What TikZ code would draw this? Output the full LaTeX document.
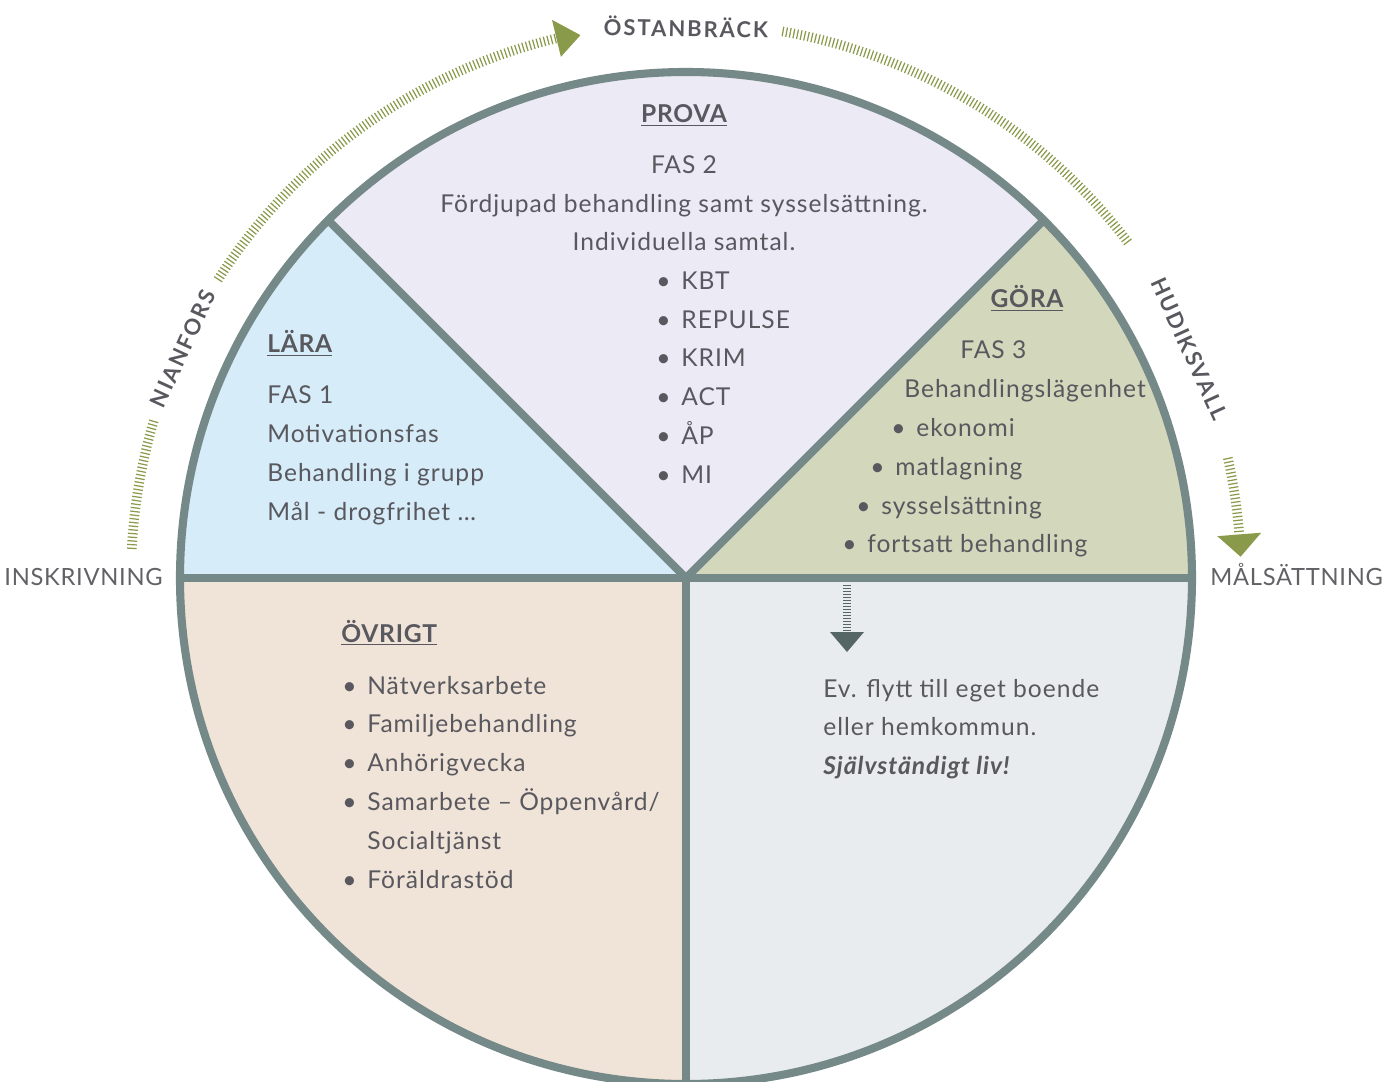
\documentclass[tikz,border=0pt]{standalone}
\usepackage{fontspec}
\setmainfont{Lato}
\usetikzlibrary{positioning}

\tikzset{
  body/.style={text=txt, font=\fontsize{14}{16}\selectfont\addfontfeature{LetterSpace=4}, inner sep=0pt},
  head/.style={text=txt, font=\fontsize{14}{16}\selectfont\bfseries\addfontfeature{LetterSpace=3}, inner sep=0pt},
  place/.style={text=txt, font=\fontsize{12.5}{14}\selectfont\bfseries\addfontfeature{LetterSpace=9}, inner sep=0pt},
  side/.style={text=side, font=\fontsize{13.5}{16}\selectfont\addfontfeature{LetterSpace=3}, inner sep=0pt},
  rimline/.style={draw=rim, line width=4.6pt},
  hatch/.style={draw=leaf, line width=5.5pt, dash pattern=on 0.7pt off 1.4pt},
  stem/.style={draw=arrowc, line width=4pt, dash pattern=on 0.8pt off 0.9pt}
}
\newcommand{\bl}{\makebox[0.5cm][l]{\textbullet}}
\newcommand{\hd}[1]{\underline{#1}}

\begin{document}
\begin{tikzpicture}[x=0.02cm, y=0.02cm]

% Define colors
\definecolor{rim}{RGB}{117, 137, 137}
\definecolor{txt}{RGB}{88, 88, 94}
\definecolor{side}{RGB}{98, 98, 102}
\definecolor{leaf}{RGB}{138, 154, 75}
\definecolor{arrowc}{RGB}{86, 102, 102}
\definecolor{laraC}{RGB}{214, 236, 248}
\definecolor{provaC}{RGB}{236, 234, 245}
\definecolor{goraC}{RGB}{211, 215, 187}
\definecolor{ovrC}{RGB}{240, 228, 217}
\definecolor{malC}{RGB}{232, 236, 239}

% Page size
\useasboundingbox (-686, -503) rectangle (712, 578);
\clip (-686, -503) rectangle (712, 578);

% Fill the sectors
\fill[laraC] (0, 0) -- (180:506) arc (180:135:506) -- cycle;
\fill[provaC] (0, 0) -- (135:506) arc (135:45:506) -- cycle;
\fill[goraC] (0, 0) -- (45:506) arc (45:0:506) -- cycle;
\fill[ovrC] (0, 0) -- (180:506) arc (180:270:506) -- cycle;
\fill[malC] (0, 0) -- (270:506) arc (270:360:506) -- cycle;

% Draw the rim and the dividers
\draw[rimline] (0, 0) circle (506);
\draw[rimline] (180:506) -- (0:506);
\draw[rimline] (0, 0) -- (135:506);
\draw[rimline] (0, 0) -- (45:506);
\draw[rimline] (0, 0) -- (270:506);

% Draw the green arcs
\draw[hatch] (177:555) arc (177:163.5:555);
\draw[hatch] (147.5:555) arc (147.5:103.5:555);
\fill[leaf] (103.5:574) -- (101:553) -- (103.5:536) -- cycle;
\draw[hatch] (80:555) arc (80:37:555);
\draw[hatch] (12.5:555) arc (12.5:4.5:555);
\fill[leaf] (4.5:577) -- (2.2:555) -- (4.5:533) -- cycle;

% Add the place names
\node[place, rotate=65.5] (nianfors) at (155.5:553) {NIANFORS};
\node[place, rotate=-1] (ostanbrack) at (90:551) {ÖSTANBRÄCK};
\node[place, rotate=-65.5] (hudiksvall) at (24.5:553) {HUDIKSVALL};

% Add start and end labels
\node[side, anchor=base east] (inskrivning) at (-523, -8) {INSKRIVNING};
\node[side, anchor=base west] (malsattning) at (524, -8) {MÅLSÄTTNING};

% Add labels for LÄRA
\node[head, anchor=base west] (lara) at (-419, 225) {\hd{LÄRA}};
\node[body, anchor=base west] (lara1) at (-419, 174) {FAS 1};
\node[body, anchor=base west] (lara2) at (-419, 135) {Motivationsfas};
\node[body, anchor=base west] (lara3) at (-419, 96) {Behandling i grupp};
\node[body, anchor=base west] (lara4) at (-419, 57) {Mål - drogfrihet \dots};

% Add labels for PROVA
\node[head, anchor=base] (prova) at (-2, 455) {\hd{PROVA}};
\node[body, anchor=base] (prova1) at (-2, 404) {FAS 2};
\node[body, anchor=base] (prova2) at (-2, 365) {Fördjupad behandling samt sysselsättning.};
\node[body, anchor=base] (prova3) at (-2, 327) {Individuella samtal.};
\node[body, anchor=base west] (prova4) at (-30, 288) {\bl KBT};
\node[body, anchor=base west] (prova5) at (-30, 249) {\bl REPULSE};
\node[body, anchor=base west] (prova6) at (-30, 211) {\bl KRIM};
\node[body, anchor=base west] (prova7) at (-30, 172) {\bl ACT};
\node[body, anchor=base west] (prova8) at (-30, 133) {\bl ÅP};
\node[body, anchor=base west] (prova9) at (-30, 94) {\bl MI};

% Add labels for GÖRA
\node[head, anchor=base] (gora) at (341, 270) {\hd{GÖRA}};
\node[body, anchor=base west] (gora1) at (274, 219) {FAS 3};
\node[body, anchor=base west] (gora2) at (218, 180) {Behandlingslägenhet};
\node[body, anchor=base west] (gora3) at (205, 141) {\bl ekonomi};
\node[body, anchor=base west] (gora4) at (184, 102) {\bl matlagning};
\node[body, anchor=base west] (gora5) at (170, 63) {\bl sysselsättning};
\node[body, anchor=base west] (gora6) at (156, 25) {\bl fortsatt behandling};

% Add labels for ÖVRIGT
\node[head, anchor=base west] (ovrigt) at (-345, -64) {\hd{ÖVRIGT}};
\node[body, anchor=base west] (ovrigt1) at (-344, -116) {\bl Nätverksarbete};
\node[body, anchor=base west] (ovrigt2) at (-344, -154) {\bl Familjebehandling};
\node[body, anchor=base west] (ovrigt3) at (-344, -193) {\bl Anhörigvecka};
\node[body, anchor=base west] (ovrigt4) at (-344, -232) {\bl Samarbete -- Öppenvård/};
\node[body, anchor=base west] (ovrigt5) at (-344, -271) {\makebox[0.5cm]{}Socialtjänst};
\node[body, anchor=base west] (ovrigt6) at (-344, -310) {\bl Föräldrastöd};

% Draw the arrow into the last field
\coordinate (stemtop) at (161, -7);
\coordinate (stemend) at (161, -54);
\draw[stem] (stemtop) -- (stemend);
\fill[arrowc] (stemend) ++(-17, 0) -- ++(34, 0) -- ++(-17, -20) -- cycle;

% Add the bottom right text
\node[body, anchor=base west] (mal1) at (137, -119) {Ev. flytt till eget boende};
\node[body, anchor=base west] (mal2) at (137, -157) {eller hemkommun.};
\node[body, anchor=base west] (mal3) at (137, -196) {\textbf{\textit{Självständigt liv!}}};

\end{tikzpicture}
\end{document}
